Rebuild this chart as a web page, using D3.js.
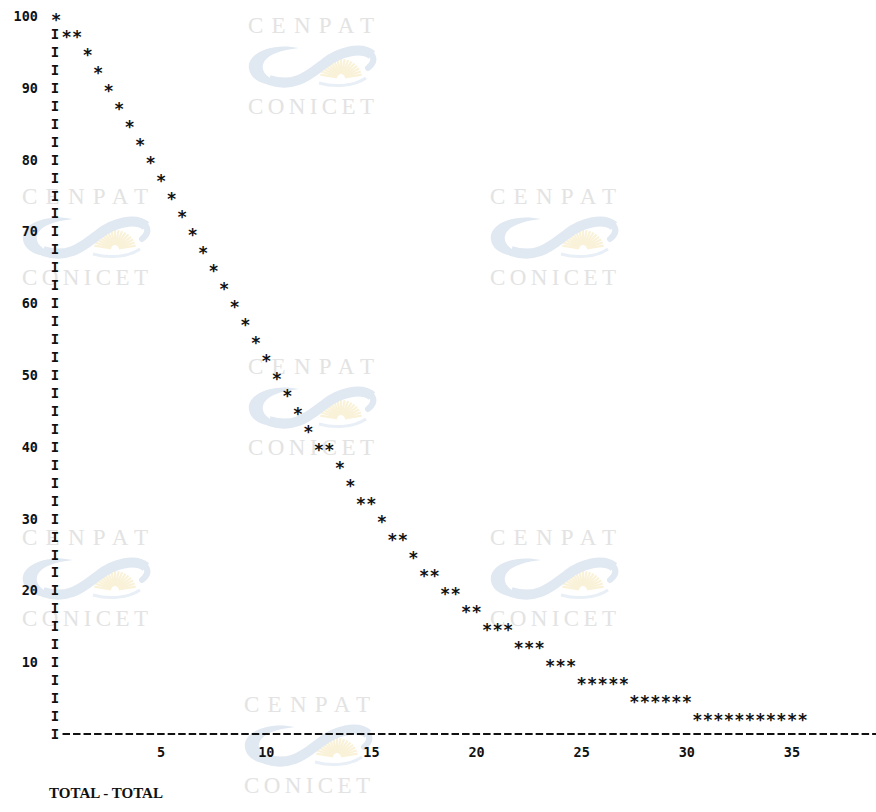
<!DOCTYPE html>
<html><head><meta charset="utf-8">
<script src="https://cdn.jsdelivr.net/npm/d3@7"></script>
<style>html,body{margin:0;padding:0;background:#fff;}svg{display:block;}</style>
</head><body>
<script>
// ---- data ----
const percentLevels = [100, 97.5, 95, 92.5, 90, 87.5, 85, 82.5, 80, 77.5, 75, 72.5, 70, 67.5, 65, 62.5, 60, 57.5, 55, 52.5, 50, 47.5, 45, 42.5, 40, 37.5, 35, 32.5, 30, 27.5, 25, 22.5, 20, 17.5, 15, 12.5, 10, 7.5, 5, 2.5];
const sizeColumns = [
  [0], [0.5, 1], [1.5], [2], [2.5], [3], [3.5], [4], [4.5], [5],
  [5.5], [6], [6.5], [7], [7.5], [8], [8.5], [9], [9.5], [10],
  [10.5], [11], [11.5], [12], [12.5, 13], [13.5], [14], [14.5, 15], [15.5], [16, 16.5],
  [17], [17.5, 18], [18.5, 19], [19.5, 20], [20.5, 21, 21.5], [22, 22.5, 23], [23.5, 24, 24.5],
  [25, 25.5, 26, 26.5, 27], [27.5, 28, 28.5, 29, 29.5, 30],
  [30.5, 31, 31.5, 32, 32.5, 33, 33.5, 34, 34.5, 35, 35.5]
];
const yTickValues = [100, 90, 80, 70, 60, 50, 40, 30, 20, 10];
const xTickValues = [5, 10, 15, 20, 25, 30, 35];
const axisRowStep = 2.5;
const caption = "TOTAL - TOTAL";
const watermarkTop = "CENPAT";
const watermarkBottom = "CONICET";

// ---- layout ----
const W = 876, H = 812;
const svg = d3.select("body").append("svg").attr("width", W).attr("height", H);
svg.append("rect").attr("width", W).attr("height", H).attr("fill", "#fff");

const x = d3.scaleLinear().domain([0, 35]).range([56, 792]);
const y = d3.scaleLinear().domain([0, 100]).range([734, 16]);

// ---- watermarks ----
const marks = [[311, 25], [85, 196], [553, 196], [311, 366], [85, 537], [553, 537], [307, 704]];
const wm = svg.append("g").attr("class", "watermarks");
marks.forEach(([cx, cy]) => {
  const g = wm.append("g").attr("transform", `translate(${cx},${cy})`);
  g.append("text").text(watermarkTop).attr("x", -63).attr("y", 8)
    .attr("textLength", 126).attr("lengthAdjust", "spacing")
    .attr("font-family", "Liberation Serif").attr("font-size", 23).attr("fill", "#e3e3e3");
  g.append("text").text(watermarkBottom).attr("x", -63).attr("y", 89)
    .attr("textLength", 126).attr("lengthAdjust", "spacing")
    .attr("font-family", "Liberation Serif").attr("font-size", 23).attr("fill", "#e3e3e3");
  const logo = g.append("g").attr("transform", "translate(0,41)");
  // sun rays
  const sun = logo.append("g").attr("transform", "translate(30,12)");
  d3.range(190, 351, 10).forEach(a => {
    const r = a * Math.PI / 180;
    sun.append("line").attr("x1", 4 * Math.cos(r)).attr("y1", 4 * Math.sin(r))
      .attr("x2", 21 * Math.cos(r)).attr("y2", 19 * Math.sin(r))
      .attr("stroke", "#faf2d8").attr("stroke-width", 2.2);
  });
  // left crescent
  logo.append("path")
    .attr("d", "M -12,-18 C -40,-24 -65,-12 -62,3 C -60,15 -45,21 -26,19 C -40,14 -50,8 -48,-1 C -46,-11 -30,-16 -12,-18 Z")
    .attr("fill", "#e0e8f2");
  // swoosh band
  logo.append("path")
    .attr("d", "M -42,14 C -15,23 0,7 14,-3 C 28,-14 50,-20 61,-11")
    .attr("fill", "none").attr("stroke", "#e0e8f2").attr("stroke-width", 10);
  logo.append("path")
    .attr("d", "M 61,-11 C 64,-6 62,-2 57,2")
    .attr("fill", "none").attr("stroke", "#e0e8f2").attr("stroke-width", 6).attr("stroke-linecap", "round");
  logo.append("path")
    .attr("d", "M 8,17 C 22,21 42,21 55,12")
    .attr("fill", "none").attr("stroke", "#e9eff6").attr("stroke-width", 3);
});

// ---- axes (line-printer style) ----
const mono = "DejaVu Sans Mono";
const ink = "#111";
const axisRows = d3.range(0, 100, axisRowStep);
svg.append("g").selectAll("text").data(axisRows).join("text")
  .text("I").attr("x", x(0) - 1).attr("y", d => y(d) + 5)
  .attr("text-anchor", "middle").attr("font-family", mono).attr("font-weight", "bold")
  .attr("font-size", 14).attr("fill", ink);

svg.append("line").attr("x1", x(0.5) - 4).attr("x2", W).attr("y1", y(0)).attr("y2", y(0))
  .attr("stroke", ink).attr("stroke-width", 1.8)
  .attr("stroke-dasharray", `7.5 ${(x(0.5) - x(0)) - 7.5}`);

svg.append("g").selectAll("text").data(yTickValues).join("text")
  .text(d => d).attr("x", 38).attr("y", d => y(d) + 5)
  .attr("text-anchor", "end").attr("font-family", mono).attr("font-weight", "bold")
  .attr("font-size", 13.5).attr("fill", ink);

svg.append("g").selectAll("text").data(xTickValues).join("text")
  .text(d => d).attr("x", d => x(d)).attr("y", y(0) + 23)
  .attr("text-anchor", "middle").attr("font-family", mono).attr("font-weight", "bold")
  .attr("font-size", 13.5).attr("fill", ink);

// ---- points ----
const pts = [];
percentLevels.forEach((p, i) => sizeColumns[i].forEach(c => pts.push({x: c, y: p})));
svg.append("g").selectAll("text").data(pts).join("text")
  .text("*").attr("x", d => x(d.x)).attr("y", d => y(d.y) + 9.5)
  .attr("text-anchor", "middle").attr("font-family", mono).attr("font-weight", "bold")
  .attr("font-size", 17).attr("fill", ink);

// ---- caption ----
svg.append("text").text(caption).attr("x", 49).attr("y", 798)
  .attr("textLength", 114).attr("lengthAdjust", "spacingAndGlyphs")
  .attr("font-family", "Liberation Serif").attr("font-weight", "bold")
  .attr("font-size", 14.5).attr("fill", ink);
</script>
</body></html>
